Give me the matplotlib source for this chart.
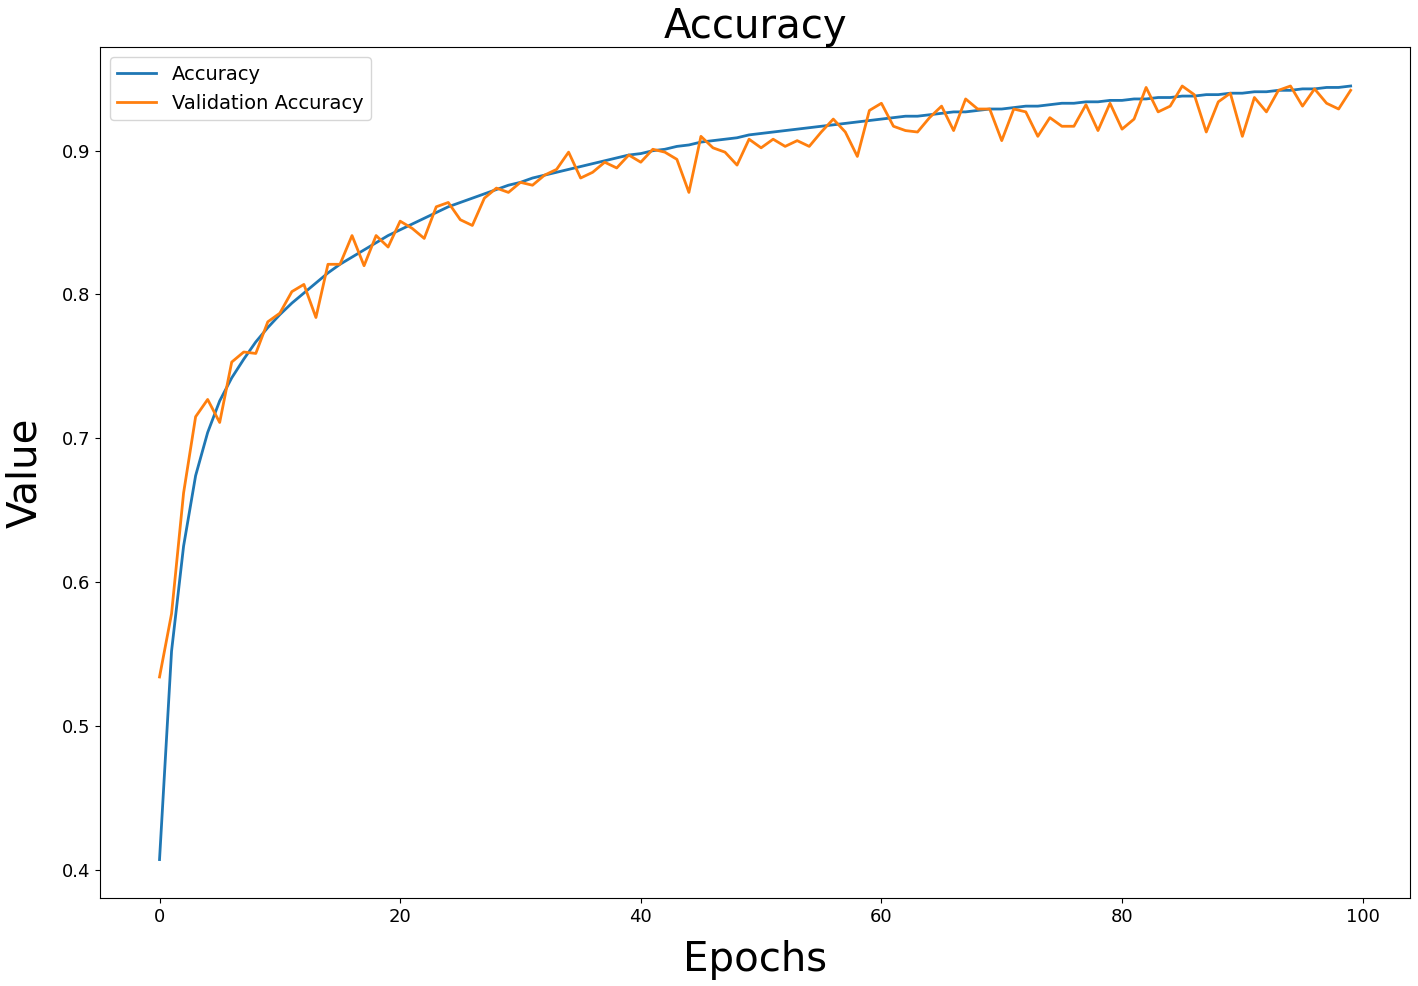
import matplotlib
matplotlib.use("Agg")
import matplotlib.pyplot as plt
import numpy as np

epochs = np.arange(100)

accuracy = [
    0.407, 0.552, 0.625, 0.674, 0.704, 0.726, 0.742, 0.755, 0.767, 0.777,
    0.786, 0.794, 0.801, 0.808, 0.815, 0.821, 0.826, 0.831, 0.836, 0.841,
    0.845, 0.849, 0.853, 0.857, 0.861, 0.864, 0.867, 0.870, 0.873, 0.876,
    0.878, 0.881, 0.883, 0.885, 0.887, 0.889, 0.891, 0.893, 0.895, 0.897,
    0.898, 0.900, 0.901, 0.903, 0.904, 0.906, 0.907, 0.908, 0.909, 0.911,
    0.912, 0.913, 0.914, 0.915, 0.916, 0.917, 0.918, 0.919, 0.920, 0.921,
    0.922, 0.923, 0.924, 0.924, 0.925, 0.926, 0.927, 0.927, 0.928, 0.929,
    0.929, 0.930, 0.931, 0.931, 0.932, 0.933, 0.933, 0.934, 0.934, 0.935,
    0.935, 0.936, 0.936, 0.937, 0.937, 0.938, 0.938, 0.939, 0.939, 0.940,
    0.940, 0.941, 0.941, 0.942, 0.942, 0.943, 0.943, 0.944, 0.944, 0.945,
]

val_accuracy = [
    0.534, 0.578, 0.662, 0.715, 0.727, 0.711, 0.753, 0.760, 0.759, 0.781,
    0.787, 0.802, 0.807, 0.784, 0.821, 0.821, 0.841, 0.820, 0.841, 0.833,
    0.851, 0.846, 0.839, 0.861, 0.864, 0.852, 0.848, 0.867, 0.874, 0.871,
    0.878, 0.876, 0.883, 0.887, 0.899, 0.881, 0.885, 0.892, 0.888, 0.897,
    0.892, 0.901, 0.899, 0.894, 0.871, 0.910, 0.902, 0.899, 0.890, 0.908,
    0.902, 0.908, 0.903, 0.907, 0.903, 0.913, 0.922, 0.913, 0.896, 0.928,
    0.933, 0.917, 0.914, 0.913, 0.923, 0.931, 0.914, 0.936, 0.929, 0.929,
    0.907, 0.929, 0.927, 0.910, 0.923, 0.917, 0.917, 0.932, 0.914, 0.933,
    0.915, 0.922, 0.944, 0.927, 0.931, 0.945, 0.939, 0.913, 0.934, 0.940,
    0.910, 0.937, 0.927, 0.942, 0.945, 0.931, 0.943, 0.933, 0.929, 0.942,
]

fig, ax = plt.subplots(figsize=(14.18, 9.86), dpi=100)

ax.plot(epochs, accuracy, color='#1f77b4', linewidth=2, label='Accuracy')
ax.plot(epochs, val_accuracy, color='#ff7f0e', linewidth=2, label='Validation Accuracy')

ax.set_title('Accuracy', fontsize=29, pad=4)
ax.set_xlabel('Epochs', fontsize=29, labelpad=10)
ax.set_ylabel('Value', fontsize=29, labelpad=12)
ax.tick_params(labelsize=13)
ax.legend(loc='upper left', fontsize=14)

fig.subplots_adjust(left=0.0705, right=0.9945, top=0.952, bottom=0.089)
fig.savefig('out.png')
